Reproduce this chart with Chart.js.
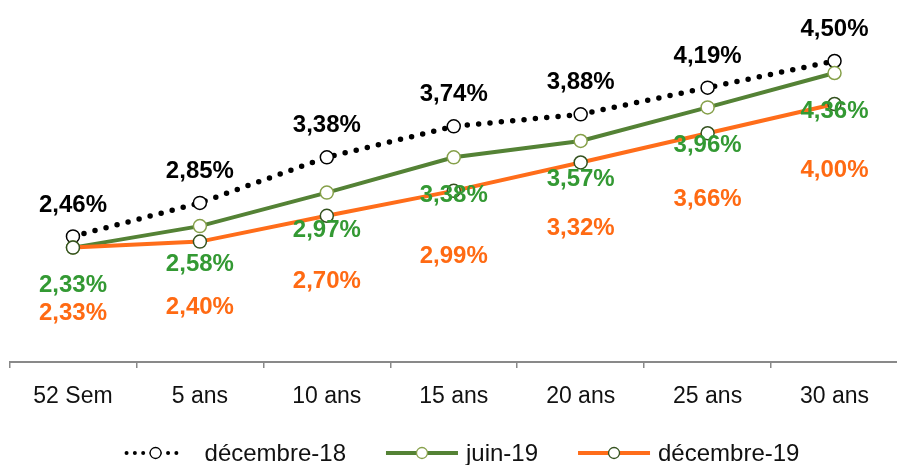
<!DOCTYPE html>
<html>
<head>
<meta charset="utf-8">
<script src="https://cdn.jsdelivr.net/npm/chart.js@4.4.1/dist/chart.umd.min.js"></script>
<style>
  html, body { margin: 0; padding: 0; background: #ffffff; overflow: hidden; width: 897px; height: 465px; }
  #wrap { width: 897px; height: 465px; position: relative; overflow: hidden; }
  canvas { display: block; }
</style>
</head>
<body>
<div id="wrap"><canvas id="c" width="906" height="465" style="width:906px;height:465px"></canvas></div>
<script>
// ---- data ----
const categories = ['52 Sem', '5 ans', '10 ans', '15 ans', '20 ans', '25 ans', '30 ans'];
const seriesNames = ['décembre-18', 'juin-19', 'décembre-19'];
const dec18 = [2.46, 2.85, 3.38, 3.74, 3.88, 4.19, 4.50];
const jun19 = [2.33, 2.58, 2.97, 3.38, 3.57, 3.96, 4.36];
const dec19 = [2.33, 2.40, 2.70, 2.99, 3.32, 3.66, 4.00];

// ---- styles ----
const FONT = '"Liberation Sans", Arial, sans-serif';
const labelColors = ['#000000', '#339933', '#ff6a13'];
const labelOffsets = [-33.5, 36, 64];   // vertical offset of the value label centre from the point

const datasets = [
  {
    label: seriesNames[0], data: dec18, order: 3,
    borderColor: '#000000', borderWidth: 5.5, borderDash: [0, 11.4], borderCapStyle: 'round',
    pointRadius: 6.5, pointBorderWidth: 1.5, pointBorderColor: '#000000', pointBackgroundColor: '#ffffff'
  },
  {
    label: seriesNames[1], data: jun19, order: 2,
    borderColor: '#548235', borderWidth: 4,
    pointRadius: 6.5, pointBorderWidth: 1.5, pointBorderColor: '#86a04a', pointBackgroundColor: '#ffffff'
  },
  {
    label: seriesNames[2], data: dec19, order: 1,
    borderColor: '#ff6d1a', borderWidth: 4,
    pointRadius: 6.5, pointBorderWidth: 1.5, pointBorderColor: '#34521f', pointBackgroundColor: '#ffffff'
  }
];

const valueLabels = {
  id: 'valueLabels',
  afterDatasetsDraw(chart) {
    const ctx = chart.ctx;
    ctx.save();
    ctx.font = 'bold 24px ' + FONT;
    ctx.textAlign = 'center';
    ctx.textBaseline = 'alphabetic';
    chart.data.datasets.forEach((ds, i) => {
      const meta = chart.getDatasetMeta(i);
      ctx.fillStyle = labelColors[i];
      meta.data.forEach((pt, j) => {
        const txt = ds.data[j].toFixed(2).replace('.', ',') + '%';
        ctx.fillText(txt, pt.x, pt.y + labelOffsets[i] + 8.6);
      });
    });
    ctx.restore();
  }
};

const customLegend = {
  id: 'customLegend',
  afterDraw(chart) {
    const ctx = chart.ctx;
    ctx.save();
    ctx.font = '24px ' + FONT;
    const gW = 72, gap = 8, itemGap = 40;
    const widths = seriesNames.map(n => ctx.measureText(n).width);
    const total = widths.reduce((a, b) => a + b, 0) + seriesNames.length * (gW + gap) + (seriesNames.length - 1) * itemGap;
    let x = 462 - total / 2;
    const yc = 453;
    chart.data.datasets.forEach((ds, i) => {
      let cx;
      if (ds.borderDash) {
        ctx.fillStyle = ds.borderColor;
        for (let k = 0; k < 7; k++) {
          ctx.beginPath();
          ctx.arc(x + 2 + k * 8.3, yc, 2, 0, Math.PI * 2);
          ctx.fill();
        }
        cx = x + 31;
      } else {
        ctx.strokeStyle = ds.borderColor;
        ctx.lineWidth = ds.borderWidth;
        ctx.beginPath();
        ctx.moveTo(x, yc);
        ctx.lineTo(x + gW, yc);
        ctx.stroke();
        cx = x + gW / 2;
      }
      ctx.beginPath();
      ctx.arc(cx, yc, 5.5, 0, Math.PI * 2);
      ctx.fillStyle = '#ffffff';
      ctx.fill();
      ctx.lineWidth = 1.3;
      ctx.strokeStyle = ds.pointBorderColor;
      ctx.stroke();
      ctx.fillStyle = '#111111';
      ctx.textAlign = 'left';
      ctx.textBaseline = 'alphabetic';
      ctx.fillText(seriesNames[i], x + gW + gap, yc + 8);
      x += gW + gap + widths[i] + itemGap;
    });
    ctx.restore();
  }
};

new Chart(document.getElementById('c'), {
  type: 'line',
  data: { labels: categories, datasets: datasets },
  plugins: [valueLabels, customLegend],
  options: {
    responsive: false,
    maintainAspectRatio: false,
    animation: false,
    devicePixelRatio: 1,
    layout: { padding: { left: 9.5, right: 1.5, top: 18, bottom: 53 } },
    elements: { line: { tension: 0 } },
    plugins: { legend: { display: false }, tooltip: { enabled: false } },
    scales: {
      x: {
        type: 'category',
        offset: true,
        grid: { offset: true, drawOnChartArea: false, drawTicks: true, tickLength: 6, color: '#898989', lineWidth: 1.5 },
        border: { display: true, color: '#898989', width: 2 },
        ticks: { color: '#111111', font: { family: FONT, size: 23 }, padding: 15, autoSkip: false, maxRotation: 0 },
        afterFit(scale) { scale.height = 50; scale.paddingLeft = 0; scale.paddingRight = 0; }
      },
      y: { display: false, min: 1, max: 5 }
    }
  }
});
</script>
</body>
</html>
